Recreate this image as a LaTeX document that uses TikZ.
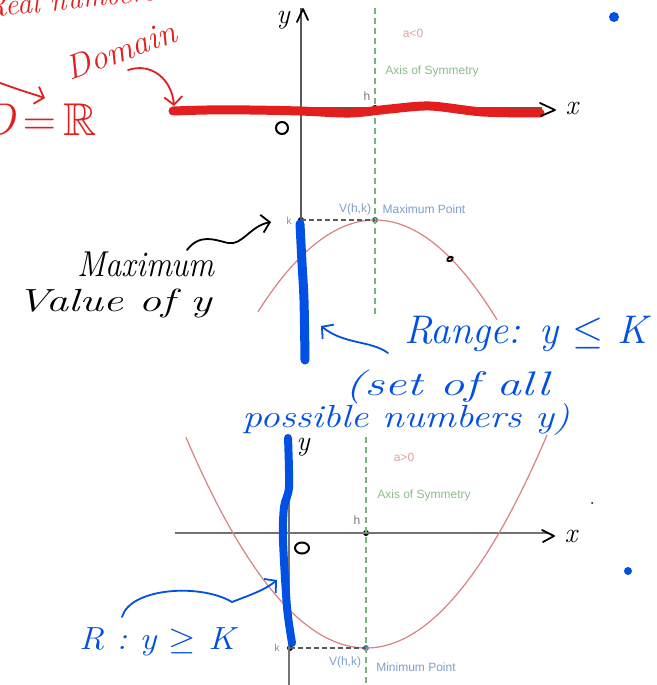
\RequirePackage{fix-cm}
\documentclass[tikz,border=0pt]{standalone}
\usepackage{fontspec}
\usepackage{amssymb}
\newfontfamily\ggfont{Liberation Sans}
\usetikzlibrary{arrows.meta,shapes.geometric}
\definecolor{hred}{RGB}{227,30,30}
\definecolor{hblue}{RGB}{0,80,228}
\definecolor{parc}{RGB}{217,130,130}
\definecolor{symc}{RGB}{120,180,120}
\definecolor{symt}{RGB}{140,190,140}
\definecolor{pinkt}{RGB}{225,160,160}
\definecolor{vtext}{RGB}{125,160,200}
\definecolor{axc}{RGB}{90,90,90}
\tikzset{
  axis/.style={draw=axc, line width=1.2pt},
  symline/.style={draw=symc, line width=1.3pt, dash pattern=on 6pt off 4pt},
  parab/.style={draw=parc, line width=1.2pt},
  kdash/.style={draw=axc, line width=1.2pt, dash pattern=on 5pt off 3pt},
  gglabel/.style={font=\ggfont\fontsize{12}{14}\selectfont, inner sep=0pt},
  hand/.style={font=\fontsize{28}{30}\selectfont\itshape, inner sep=0pt},
  hstroke/.style={line width=1.8pt, line cap=round, line join=round},
  barb/.style={-{Straight Barb[length=8pt,width=18pt,line width=1.8pt]}},
  ptdot/.style={circle, fill=black, inner sep=0pt, minimum size=6pt},
  handzero/.style={draw=black, line width=2pt, ellipse, inner sep=0pt},
}
\begin{document}
\begin{tikzpicture}[x=1pt,y=-1pt]
\useasboundingbox (0,0) rectangle (656,685);
\fill[white] (0,0) rectangle (656,685);

% ================= TOP GRAPH (a<0) =================
\coordinate (tYtop) at (301,8);
\coordinate (tXl) at (175,108);
\coordinate (tXr) at (542,108);
\node[ptdot] (tK) at (301,220) {};
\node[ptdot] (tH) at (375,108) {};
\node[circle, fill={rgb,255:red,50;green,95;blue,105}, inner sep=0pt, minimum size=6pt] (tV) at (375,220) {};
\coordinate (tSymTop) at (375,8);
\coordinate (tSymBot) at (375,317);
\draw[axis] (tYtop) -- (tK.center);
\draw[axis] (tXl) -- (tXr);
\draw[symline] (tSymTop) -- (tSymBot);
\draw[parab] plot[domain=258:497,samples=80] (\x,{220+0.67*((\x-375)/10)*((\x-375)/10)});
\draw[kdash] (tK.center) -- (tV.center);
\node[gglabel, text=pinkt] (ta) at (413,33) {a<0};
\node[gglabel, text=symt] (tsym) at (432,71) {Axis of Symmetry};
\node[gglabel, text=axc!80] (th) at (367,96) {h};
\node[gglabel, text=axc!70, font=\ggfont\fontsize{10}{12}\selectfont] (tk) at (289,221) {k};
\node[gglabel, text=vtext] (tvl) at (355,209) {V(h,k)};
\node[gglabel, text=vtext] (tmax) at (424,209) {Maximum Point};

% red domain stroke
\draw[hred, line width=9pt, line cap=round] plot[smooth] coordinates {(173,111) (207,110) (250,110) (300,111) (350,113) (390,109) (430,106) (483,112) (540,113)};

% black hand marks top
\node[hand] (ty) at (283,20) {y};
\coordinate (tc1) at (297,22); \coordinate (tc2) at (303,9); \coordinate (tc3) at (308,20);
\draw[black, hstroke] (tc1) -- (tc2) -- (tc3);
\coordinate (tg1) at (540,103); \coordinate (tg2) at (555,110); \coordinate (tg3) at (541,116);
\draw[black, hstroke] (tg1) -- (tg2) -- (tg3);
\node[hand] (tx) at (572,108) {x};
\node[handzero, minimum width=12pt, minimum height=12pt] (t0) at (282,128) {};
\node[draw=black, line width=1.8pt, ellipse, inner sep=0pt, minimum width=6pt, minimum height=4pt, rotate=30] (scrib) at (450,259) {};

% blue range stroke top
\draw[hblue, line width=9pt, line cap=round] plot[smooth] coordinates {(300,224) (302,263) (304,300) (305,360)};

% ================= BOTTOM GRAPH (a>0) =================
\coordinate (bYtop) at (289,440);
\coordinate (bYbot) at (289,685);
\coordinate (bXl) at (175,533);
\coordinate (bXr) at (547,533);
\node[ptdot] (bH) at (366,533) {};
\node[ptdot] (bK) at (290,648) {};
\node[circle, fill={rgb,255:red,70;green,120;blue,185}, inner sep=0pt, minimum size=6pt] (bV) at (366,648) {};
\coordinate (bSymTop) at (366,437);
\coordinate (bSymBot) at (366,685);
\draw[axis, draw=axc!85] (bYtop) -- (bYbot);
\draw[axis, draw=axc!85] (bXl) -- (bXr);
\draw[symline] (bSymTop) -- (bSymBot);
\draw[parab] plot[domain=186:547,samples=100] (\x,{648-0.65*((\x-366)/10)*((\x-366)/10)});
\draw[kdash] (bK.center) -- (bV.center);
\node[gglabel, text=pinkt] (ba) at (404,457) {a>0};
\node[gglabel, text=symt] (bsym) at (424,495) {Axis of Symmetry};
\node[gglabel, text=axc!80] (bh) at (357,520) {h};
\node[gglabel, text=axc!70, font=\ggfont\fontsize{10}{12}\selectfont] (bk) at (277,648) {k};
\node[gglabel, text=vtext] (bvl) at (345,662) {V(h,k)};
\node[gglabel, text=vtext] (bmin) at (416,667) {Minimum Point};

% blue range stroke bottom
\draw[hblue, line width=8pt, line cap=round] plot[smooth] coordinates {(288,438) (289,487) (284,507) (283,540) (287,607) (292,643)};

% black hand marks bottom
\node[hand] (by) at (303,447) {y};
\node[handzero, minimum width=14pt, minimum height=11pt] (b0) at (302,548) {};
\coordinate (bg1) at (542,530); \coordinate (bg2) at (554,536); \coordinate (bg3) at (543,542);
\draw[black, hstroke] (bg1) -- (bg2) -- (bg3);
\node[hand] (bx) at (571,536) {x};

% ================= HAND ANNOTATIONS =================
% red
\node[hand, text=hred, anchor=base west, rotate=6, font=\fontsize{30}{32}\selectfont\itshape] (real) at (-14,18) {Real numbers};
\node[hand, text=hred, rotate=20, font=\fontsize{34}{36}\selectfont\itshape] (dom) at (121,50) {Domain};
\coordinate (da1) at (128,70); \coordinate (da2) at (174,106);
\draw[hred, hstroke, barb] (da1) .. controls (152,62) and (172,80) .. (da2);
\coordinate (la1) at (0,83); \coordinate (la2) at (45,98);
\draw[hred, hstroke, barb] (la1) .. controls (20,90) .. (la2);
\node[hand, text=hred, anchor=east, font=\fontsize{46}{48}\selectfont\itshape] (eqR) at (97,120) {D$\,{=}\,\mathbb{R}$};

% black max annotation
\node[hand, font=\fontsize{36}{38}\selectfont\itshape, xscale=0.9] (maxw) at (146,264) {Maximum};
\node[hand, font=\fontsize{32}{34}\selectfont\itshape, xscale=1.4] (valw) at (114,303) {Value of y};
\coordinate (ma1) at (187,250);
\coordinate (ma2) at (271,222);
\draw[black, hstroke, barb] (ma1) .. controls (200,233) and (215,240) .. (228,243) .. controls (242,246) and (250,226) .. (ma2);

% blue range annotation
\node[hand, text=hblue, font=\fontsize{40}{42}\selectfont\itshape] (range) at (526,334) {Range: y $\leq$ K};
\node[hand, text=hblue, font=\fontsize{34}{36}\selectfont\itshape, xscale=1.45] (setof) at (447,387) {(set of all};
\node[hand, text=hblue, font=\fontsize{32}{34}\selectfont\itshape, xscale=1.23] (poss) at (406,420) {possible numbers y)};
\coordinate (ra1) at (388,353); \coordinate (ra2) at (321,326);
\draw[hblue, hstroke, barb] (ra1) .. controls (370,340) and (345,345) .. (ra2);

\node[hand, text=hblue, font=\fontsize{32}{34}\selectfont\itshape, xscale=1.1] (rlab) at (157,642) {R : y $\geq$ K};
\coordinate (rb1) at (122,617); \coordinate (rb2) at (277,580);
\draw[hblue, hstroke, barb] (rb1) .. controls (130,588) and (200,583) .. (232,602) .. controls (250,595) and (265,590) .. (rb2);

% dots
\node[circle, fill=hblue, inner sep=0pt, minimum size=10pt] (bd1) at (614,17) {};
\node[circle, fill=hblue, inner sep=0pt, minimum size=8pt] (bd2) at (628,571) {};
\node[circle, fill=black, inner sep=0pt, minimum size=2pt] (bd3) at (592,503) {};
\end{tikzpicture}
\end{document}
